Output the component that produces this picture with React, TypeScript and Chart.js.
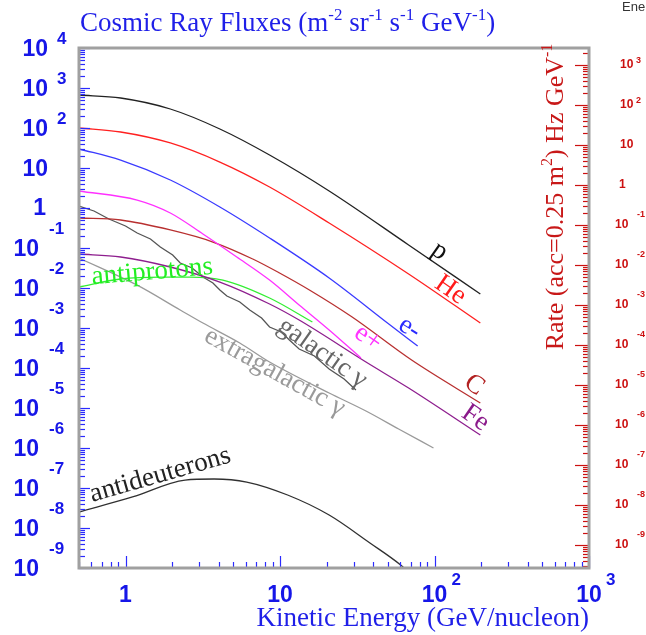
import React, { useEffect, useRef } from 'react';
import { Chart, registerables } from 'chart.js';

Chart.register(...registerables);

// ---------------- data (kinetic energy GeV/nucleon, flux m^-2 sr^-1 s^-1 GeV^-1) ----------------
const pE = [0.5, 0.93, 1.95, 4.08, 8.56, 20.8, 68.0, 198];
const pF = [668, 562, 298.5, 94.4, 21.1, 2.66, 0.119, 0.00708];

const heE = [0.5, 0.93, 1.95, 4.08, 8.56, 20.8, 68.0, 198];
const heF = [100, 79.4, 42.2, 14.1, 3.35, 0.422, 0.0224, 0.00133];

const elE = [0.5, 0.93, 1.95, 4.08, 8.56, 20.8, 50.6, 77.8];
const elF = [29.9, 15.8, 5.01, 1.06, 0.178, 0.0178, 0.00126, 0.000355];

const poE = [0.5, 1.19, 1.95, 3.17, 5.25, 8.56, 13.3, 20.8, 33.4];
const poF = [2.66, 1.58, 0.75, 0.224, 0.0596, 0.0158, 0.00376, 0.000891, 0.000178];

const cE = [0.5, 0.93, 1.95, 3.68, 6.66, 9.93, 15.5, 29.3, 71.1, 198];
const cF = [0.562, 0.501, 0.282, 0.141, 0.0531, 0.0237, 0.00891, 0.00188, 0.000158, 1.33e-5];

const feE = [0.5, 0.93, 1.95, 4.08, 8.56, 13.3, 36.0, 68.0, 198];
const feF = [0.0708, 0.0596, 0.0335, 0.0141, 0.00398, 0.00158, 0.000141, 3.16e-5, 2.11e-6];

const apE = [0.5, 0.93, 1.68, 2.62, 4.27, 8.56, 16.2];
const apF = [0.0106, 0.0168, 0.0188, 0.0188, 0.0158, 0.00562, 0.00141];

const galE = [0.5, 0.625, 0.781, 1.0, 1.19, 1.45, 1.68, 2.02, 2.26, 2.7, 3.17, 3.68, 4.08, 4.53, 5.49, 6.37, 7.6, 8.56, 10.2, 11.5, 13.3, 16.7, 20.8, 26.0, 31.0];
const galF = [1.12, 0.841, 0.531, 0.355, 0.237, 0.168, 0.106, 0.0668, 0.0422, 0.0316, 0.0188, 0.0133, 0.00891, 0.00631, 0.00447, 0.00282, 0.00178, 0.00106, 0.000794, 0.000501, 0.000298, 0.0002, 9.44e-5, 5.31e-5, 2.82e-5];

const exgE = [0.5, 1.19, 2.26, 3.17, 5.49, 8.56, 20.8, 36.0, 58.6, 98.5];
const exgF = [0.0562, 0.0118, 0.00282, 0.00133, 0.000422, 0.000141, 2.37e-5, 8.41e-6, 2.99e-6, 1e-6];

const adE = [0.5, 1.11, 2.43, 3.74, 6.09, 11.2, 20.8, 38.2, 60.4, 68.0];
const adF = [2.51e-8, 5.96e-8, 1.58e-7, 1.68e-7, 1.41e-7, 6.68e-8, 2.11e-8, 4.22e-9, 1.19e-9, 7.9e-10];

// axis ranges and tick decades
const xMin = 0.5;
const xMax = 1000;
const yMin = 1e-9;
const yMax = 1e4;
const rateFactor = Math.pow(10, -0.575); // rate axis = flux * acceptance
const leftDecades = [-9, -8, -7, -6, -5, -4, -3, -2, -1, 0, 1, 2, 3, 4];
const rightDecades = [-9, -8, -7, -6, -5, -4, -3, -2, -1, 0, 1, 2, 3];
const bottomDecades = [0, 1, 2, 3];

// curve labels: text, anchor energy, anchor flux, angle (deg), colour
const labelTexts = ['p', 'He', 'e-', 'e+', 'C', 'Fe', 'galactic \u03b3', 'extragalactic \u03b3', 'antiprotons', 'antideuterons'];
const labelE = [107.7, 126.8, 69.0, 37.1, 180.8, 183.6, 18.8, 9.22, 1.49, 1.68];
const labelF = [0.0841, 0.00891, 0.001, 0.000562, 3.76e-5, 5.62e-6, 0.000237, 7.94e-5, 0.0251, 2.11e-7];
const labelAngles = [35, 35, 32, 35, 35, 35, 35, 29, -5, -16];
const labelColors = ['#111111', '#ff1a1a', '#2a2aff', '#ff33ff', '#b22222', '#8b1a8b', '#666666', '#9a9a9a', '#22ee22', '#222222'];

const SERIF = '"Liberation Serif", "Times New Roman", serif';
const SANS = '"Liberation Sans", Arial, sans-serif';
const BLUE = '#1616e8';
const TICK_BLUE = '#2a2aff';
const RED = '#cc1010';

function pts(es: number[], fs: number[]) {
  return es.map((e, i) => ({ x: e, y: fs[i] }));
}

function ds(label: string, es: number[], fs: number[], color: string, jagged = false) {
  return {
    label,
    data: pts(es, fs),
    borderColor: color,
    backgroundColor: color,
    borderWidth: 1.3,
    pointRadius: 0,
    fill: false,
    tension: jagged ? 0 : 0.4,
    cubicInterpolationMode: jagged ? 'default' : 'monotone',
  };
}

type Part = [string, boolean];

function richWidth(ctx: CanvasRenderingContext2D, parts: Part[], main: string, sup: string) {
  let w = 0;
  for (const [t, s] of parts) {
    ctx.font = s ? sup : main;
    w += ctx.measureText(t).width;
  }
  return w;
}

function drawRich(ctx: CanvasRenderingContext2D, x: number, y: number, parts: Part[], main: string, sup: string, rise: number) {
  let cx = x;
  ctx.textAlign = 'left';
  ctx.textBaseline = 'alphabetic';
  for (const [t, s] of parts) {
    ctx.font = s ? sup : main;
    ctx.fillText(t, cx, s ? y - rise : y);
    cx += ctx.measureText(t).width;
  }
}

function seg(ctx: CanvasRenderingContext2D, x1: number, y1: number, x2: number, y2: number) {
  ctx.beginPath();
  ctx.moveTo(x1, y1);
  ctx.lineTo(x2, y2);
  ctx.stroke();
}

const overlayPlugin = {
  id: 'cosmicOverlay',
  afterDraw(chart: any) {
    const ctx: CanvasRenderingContext2D = chart.ctx;
    const area = chart.chartArea;
    const left = area.left;
    const right = area.right;
    const top = area.top;
    const bottom = area.bottom;
    const xs = chart.scales.x;
    const ys = chart.scales.y;
    const rs = chart.scales.y2;
    ctx.save();

    // ---- ticks ----
    ctx.lineWidth = 1.2;
    ctx.strokeStyle = TICK_BLUE;
    for (let e = -10; e <= 4; e++) {
      for (let m = 1; m <= 9; m++) {
        const v = m * Math.pow(10, e);
        if (v < yMin * 0.999 || v > yMax * 1.001) continue;
        const py = Math.round(ys.getPixelForValue(v)) + 0.5;
        seg(ctx, left, py, left + (m === 1 ? 11 : 6), py);
      }
    }
    for (let e = -1; e <= 3; e++) {
      for (let m = 1; m <= 9; m++) {
        const v = m * Math.pow(10, e);
        if (v < xMin * 0.999 || v > xMax * 1.001) continue;
        const px = Math.round(xs.getPixelForValue(v)) + 0.5;
        seg(ctx, px, bottom, px, bottom - (m === 1 ? 12 : 6));
      }
    }
    ctx.strokeStyle = RED;
    const rMin = yMin * rateFactor;
    const rMax = yMax * rateFactor;
    for (let e = -10; e <= 4; e++) {
      for (let m = 1; m <= 9; m++) {
        const v = m * Math.pow(10, e);
        if (v < rMin || v > rMax) continue;
        const py = Math.round(rs.getPixelForValue(v)) + 0.5;
        seg(ctx, right, py, right - (m === 1 ? 14 : 6), py);
      }
    }

    // ---- frame ----
    ctx.strokeStyle = '#a0a0a0';
    ctx.lineWidth = 3;
    ctx.strokeRect(left, top, right - left, bottom - top);

    // ---- left labels ----
    ctx.fillStyle = BLUE;
    ctx.textBaseline = 'middle';
    const big = `bold 23px ${SANS}`;
    const small = `bold 17px ${SANS}`;
    for (const e of leftDecades) {
      const py = ys.getPixelForValue(Math.pow(10, e));
      ctx.font = big;
      if (e === 0) {
        ctx.textAlign = 'right';
        ctx.fillText('1', 46, py + 1);
      } else if (e === 1) {
        ctx.textAlign = 'right';
        ctx.fillText('10', 48, py + 2);
      } else if (e > 1) {
        ctx.textAlign = 'right';
        ctx.fillText('10', 48, py + 2);
        ctx.font = small;
        ctx.textAlign = 'left';
        ctx.fillText(String(e), 57, py - 9);
      } else {
        ctx.textAlign = 'right';
        ctx.fillText('10', 39, py + 2);
        ctx.font = small;
        ctx.textAlign = 'left';
        ctx.fillText(String(e), 49, py - 19);
      }
    }

    // ---- bottom labels ----
    for (const e of bottomDecades) {
      const px = xs.getPixelForValue(Math.pow(10, e));
      ctx.font = big;
      ctx.textAlign = 'center';
      ctx.fillText(e === 0 ? '1' : '10', px, 596);
      if (e >= 2) {
        ctx.font = small;
        ctx.textAlign = 'left';
        ctx.fillText(String(e), px + 17, 580);
      }
    }

    // ---- right labels ----
    ctx.fillStyle = RED;
    const rBig = `bold 12px ${SANS}`;
    const rSmall = `bold 9px ${SANS}`;
    for (const e of rightDecades) {
      const py = rs.getPixelForValue(Math.pow(10, e));
      ctx.font = rBig;
      ctx.textAlign = 'left';
      if (e === 0) {
        ctx.fillText('1', 619, py);
      } else if (e === 1) {
        ctx.fillText('10', 620, py);
      } else if (e > 1) {
        ctx.fillText('10', 620, py);
        ctx.font = rSmall;
        ctx.fillText(String(e), 636, py - 4);
      } else {
        ctx.fillText('10', 615, py);
        ctx.font = rSmall;
        ctx.fillText(String(e), 637, py - 10);
      }
    }

    // ---- titles ----
    const mainF = `27px ${SERIF}`;
    const supF = `17px ${SERIF}`;
    ctx.fillStyle = '#1f1fe8';
    drawRich(ctx, 80, 31, [
      ['Cosmic Ray Fluxes (m', false], ['-2', true], [' sr', false], ['-1', true],
      [' s', false], ['-1', true], [' GeV', false], ['-1', true], [')', false],
    ], mainF, supF, 11);

    ctx.font = mainF;
    ctx.textAlign = 'right';
    ctx.textBaseline = 'alphabetic';
    ctx.fillText('Kinetic Energy (GeV/nucleon)', right, 626);

    // right axis title (rotated)
    const rParts: Part[] = [['Rate (acc=0.25 m', false], ['2', true], [') Hz GeV', false], ['-1', true]];
    const rMain = `26px ${SERIF}`;
    const rSup = `16px ${SERIF}`;
    const tw = richWidth(ctx, rParts, rMain, rSup);
    ctx.save();
    ctx.translate(563, 197);
    ctx.rotate(-Math.PI / 2);
    ctx.fillStyle = '#c81818';
    drawRich(ctx, -tw / 2, 0, rParts, rMain, rSup, 11);
    ctx.restore();

    // cropped corner text
    ctx.fillStyle = '#333333';
    ctx.font = `13px ${SANS}`;
    ctx.textAlign = 'left';
    ctx.textBaseline = 'alphabetic';
    ctx.fillText('Energy', 622, 11);

    // ---- curve labels ----
    ctx.font = `27px ${SERIF}`;
    ctx.textAlign = 'center';
    ctx.textBaseline = 'middle';
    labelTexts.forEach((t, i) => {
      const px = xs.getPixelForValue(labelE[i]);
      const py = ys.getPixelForValue(labelF[i]);
      ctx.save();
      ctx.translate(px, py);
      ctx.rotate((labelAngles[i] * Math.PI) / 180);
      ctx.fillStyle = labelColors[i];
      ctx.fillText(t, 0, 0);
      ctx.restore();
    });

    ctx.restore();
  },
};

export default function App() {
  const ref = useRef<HTMLCanvasElement | null>(null);
  useEffect(() => {
    if (!ref.current) return;
    const chart = new Chart(ref.current, {
      type: 'line',
      data: {
        datasets: [
          ds('p', pE, pF, '#222222'),
          ds('He', heE, heF, '#ff2020'),
          ds('e-', elE, elF, '#3a3aff'),
          ds('e+', poE, poF, '#ff30ff'),
          ds('C', cE, cF, '#b83030'),
          ds('Fe', feE, feF, '#8e1e8e'),
          ds('antiprotons', apE, apF, '#33ee33'),
          ds('galactic gamma', galE, galF, '#555555', true),
          ds('extragalactic gamma', exgE, exgF, '#9a9a9a'),
          ds('antideuterons', adE, adF, '#303030'),
        ] as any,
      },
      options: {
        animation: false,
        responsive: false,
        devicePixelRatio: 1,
        layout: { padding: { left: 79, top: 48, right: 57, bottom: 67 } },
        plugins: { legend: { display: false }, tooltip: { enabled: false }, title: { display: false } },
        scales: {
          x: { type: 'logarithmic', min: xMin, max: xMax, display: false, bounds: 'data' },
          y: { type: 'logarithmic', min: yMin, max: yMax, display: false, bounds: 'data' },
          y2: { type: 'logarithmic', position: 'right', min: yMin * rateFactor, max: yMax * rateFactor, display: false, bounds: 'data' },
        },
      } as any,
      plugins: [overlayPlugin],
    });
    return () => chart.destroy();
  }, []);
  return (
    <div style={{ position: 'absolute', left: 0, top: 0, width: 646, height: 635, background: '#fff' }}>
      <canvas ref={ref} width={646} height={635} style={{ width: 646, height: 635, display: 'block' }} />
    </div>
  );
}
